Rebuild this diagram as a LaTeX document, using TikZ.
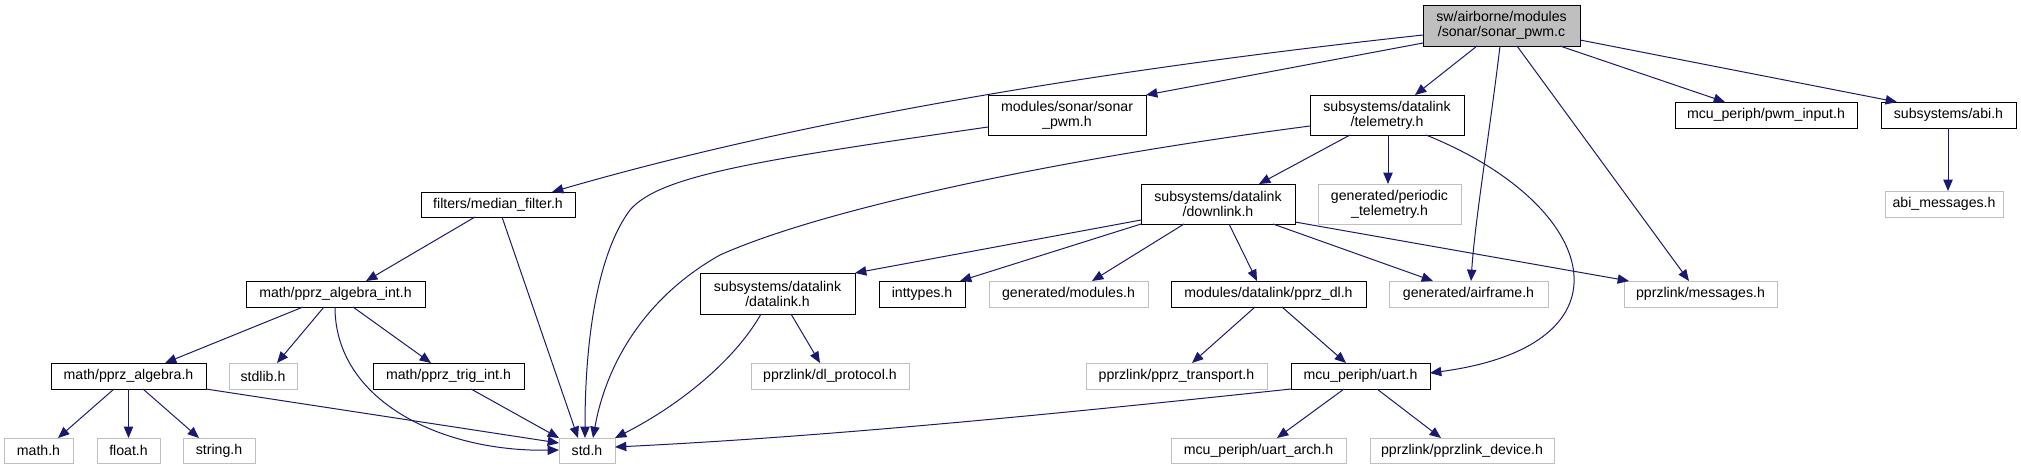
\documentclass[tikz,border=0pt]{standalone}
\usepackage{fontspec}
\setmainfont{Liberation Sans}
\usetikzlibrary{arrows.meta}
\definecolor{edgec}{HTML}{191970}
\definecolor{undocc}{HTML}{BFBFBF}
\definecolor{rootfill}{HTML}{BFBFBF}
\newcommand{\bx}[7]{\node[#6, minimum width={(#4-#2)*0.75pt}, minimum height={(#5-#3)*0.75pt}] (#1) at ({(#2+#4)/2},{(#3+#5)/2}) {#7};}
\tikzset{
  basen/.style={rectangle, inner sep=0pt, outer sep=0pt, align=center, line width=0.7pt,
    font=\fontsize{10.6}{11.25}\selectfont},
  docn/.style={basen, draw=black, fill=white},
  undocn/.style={basen, draw=undocc, fill=white},
  rootn/.style={basen, draw=black, fill=rootfill},
  e/.style={draw=edgec, line width=0.75pt, -{Triangle[length=8.5pt,width=7pt]}}
}
\begin{document}
\begin{tikzpicture}[x=0.75pt,y=-0.75pt]
\useasboundingbox (0,0) rectangle (2021,469);
% nodes
\bx{root}{1423}{5}{1580}{46}{rootn}{sw/airborne/modules\\/sonar/sonar\_pwm.c}
\bx{median}{421}{192}{575}{217}{docn}{filters/median\_filter.h}
\bx{sonarh}{988}{95}{1146}{135}{docn}{modules/sonar/sonar\\\_pwm.h}
\bx{telem}{1310}{95}{1464}{135}{docn}{subsystems/datalink\\/telemetry.h}
\bx{pwm}{1675}{102}{1857}{128}{docn}{mcu\_periph/pwm\_input.h}
\bx{abi}{1881}{102}{2016}{128}{docn}{subsystems/abi.h}
\bx{downlink}{1141}{184}{1295}{224}{docn}{subsystems/datalink\\/downlink.h}
\bx{periodic}{1318}{184}{1461}{224}{undocn}{generated/periodic\\\_telemetry.h}
\bx{abimsg}{1885}{191}{2003}{217}{undocn}{abi\_messages.h}
\bx{algint}{246}{281}{425}{307}{docn}{math/pprz\_algebra\_int.h}
\bx{datalink}{700}{273}{855}{314}{docn}{subsystems/datalink\\/datalink.h}
\bx{inttypes}{879}{281}{965}{307}{docn}{inttypes.h}
\bx{modules}{989}{281}{1148}{307}{undocn}{generated/modules.h}
\bx{pprzdl}{1171}{281}{1366}{307}{docn}{modules/datalink/pprz\_dl.h}
\bx{airframe}{1389}{281}{1548}{307}{undocn}{generated/airframe.h}
\bx{messages}{1624}{281}{1777}{307}{undocn}{pprzlink/messages.h}
\bx{algebra}{51}{363}{206}{389}{docn}{math/pprz\_algebra.h}
\bx{stdlib}{229}{363}{297}{389}{undocn}{stdlib.h}
\bx{trig}{373}{363}{524}{389}{docn}{math/pprz\_trig\_int.h}
\bx{dlproto}{751}{363}{909}{389}{undocn}{pprzlink/dl\_protocol.h}
\bx{transport}{1086}{363}{1267}{389}{undocn}{pprzlink/pprz\_transport.h}
\bx{uart}{1291}{363}{1430}{389}{docn}{mcu\_periph/uart.h}
\bx{mathh}{4}{438}{73}{463}{undocn}{math.h}
\bx{floath}{97}{438}{160}{463}{undocn}{float.h}
\bx{stringh}{183}{438}{255}{463}{undocn}{string.h}
\bx{std}{559}{438}{615}{463}{undocn}{std.h}
\bx{uartarch}{1171}{438}{1346}{463}{undocn}{mcu\_periph/uart\_arch.h}
\bx{device}{1370}{438}{1554}{463}{undocn}{pprzlink/pprzlink\_device.h}
% edges from root
\draw[e] (root.west |- 0,35) .. controls (1100,70) and (800,120) .. (median.north -| 552,0);
\draw[e] (root.west |- 0,43) -- (sonarh.north east);
\draw[e] (root.south -| 1477,0) -- (telem.north -| 1415,0);
\draw[e] (root.south -| 1500,0) .. controls (1490,130) and (1475,220) .. (airframe.north -| 1471,0);
\draw[e] (root.south -| 1517,0) -- (messages.north -| 1689,0);
\draw[e] (root.south -| 1560,0) -- (pwm.north -| 1725,0);
\draw[e] (root.east |- 0,40) -- (abi.north -| 1897,0);
% sonar_pwm.h
\draw[e] (sonarh.west |- 0,127) .. controls (760,160) and (660,175) .. (630,210) .. controls (600,250) and (585,330) .. (std.north -| 585,0);
% telemetry
\draw[e] (telem.south -| 1350,0) -- (downlink.north -| 1259,0);
\draw[e] (telem.south -| 1388,0) -- (periodic.north -| 1388,0);
\draw[e] (telem.west |- 0,126) .. controls (1050,160) and (820,210) .. (720,255) .. controls (640,300) and (605,370) .. (std.north -| 593,0);
\draw[e] (telem.south -| 1426,0) .. controls (1600,205) and (1640,345) .. (uart.east |- 0,373);
% median filter
\draw[e] (median.south -| 475,0) -- (algint.north -| 366,0);
\draw[e] (median.south -| 502,0) -- (std.north -| 578,0);
% downlink
\draw[e] (downlink.west |- 0,220) -- (datalink.north east);
\draw[e] (downlink.south west) -- (inttypes.north -| 960,0);
\draw[e] (downlink.south -| 1184,0) -- (modules.north -| 1092,0);
\draw[e] (downlink.south -| 1229,0) -- (pprzdl.north -| 1257,0);
\draw[e] (downlink.south -| 1273,0) -- (airframe.north -| 1433,0);
\draw[e] (downlink.east |- 0,222) -- (messages.north -| 1629,0);
% algebra int
\draw[e] (algint.south -| 303,0) -- (algebra.north -| 165,0);
\draw[e] (algint.south -| 324,0) -- (stdlib.north -| 277,0);
\draw[e] (algint.south -| 353,0) -- (trig.north -| 431,0);
\draw[e] (algint.south -| 335,0) .. controls (335,400) and (440,452) .. (std.west |- 0,450);
% algebra
\draw[e] (algebra.south -| 114,0) -- (mathh.north -| 58,0);
\draw[e] (algebra.south -| 128.5,0) -- (floath.north -| 128.5,0);
\draw[e] (algebra.south -| 143,0) -- (stringh.north -| 199,0);
\draw[e] (algebra.south east) -- (std.west |- 0,443);
% trig
\draw[e] (trig.south -| 471,0) -- (std.north west);
% datalink
\draw[e] (datalink.south -| 791,0) -- (dlproto.north -| 820,0);
\draw[e] (datalink.south -| 761,0) .. controls (735,360) and (680,405) .. (std.north east);
% pprz_dl
\draw[e] (pprzdl.south -| 1255,0) -- (transport.north -| 1192,0);
\draw[e] (pprzdl.south -| 1282,0) -- (uart.north -| 1346,0);
% uart
\draw[e] (uart.south west) .. controls (1000,420) and (800,438) .. (std.east |- 0,447);
\draw[e] (uart.south -| 1344,0) -- (uartarch.north -| 1277,0);
\draw[e] (uart.south -| 1377,0) -- (device.north -| 1441,0);
% abi
\draw[e] (abi.south -| 1948,0) -- (abimsg.north -| 1948,0);
\end{tikzpicture}
\end{document}
